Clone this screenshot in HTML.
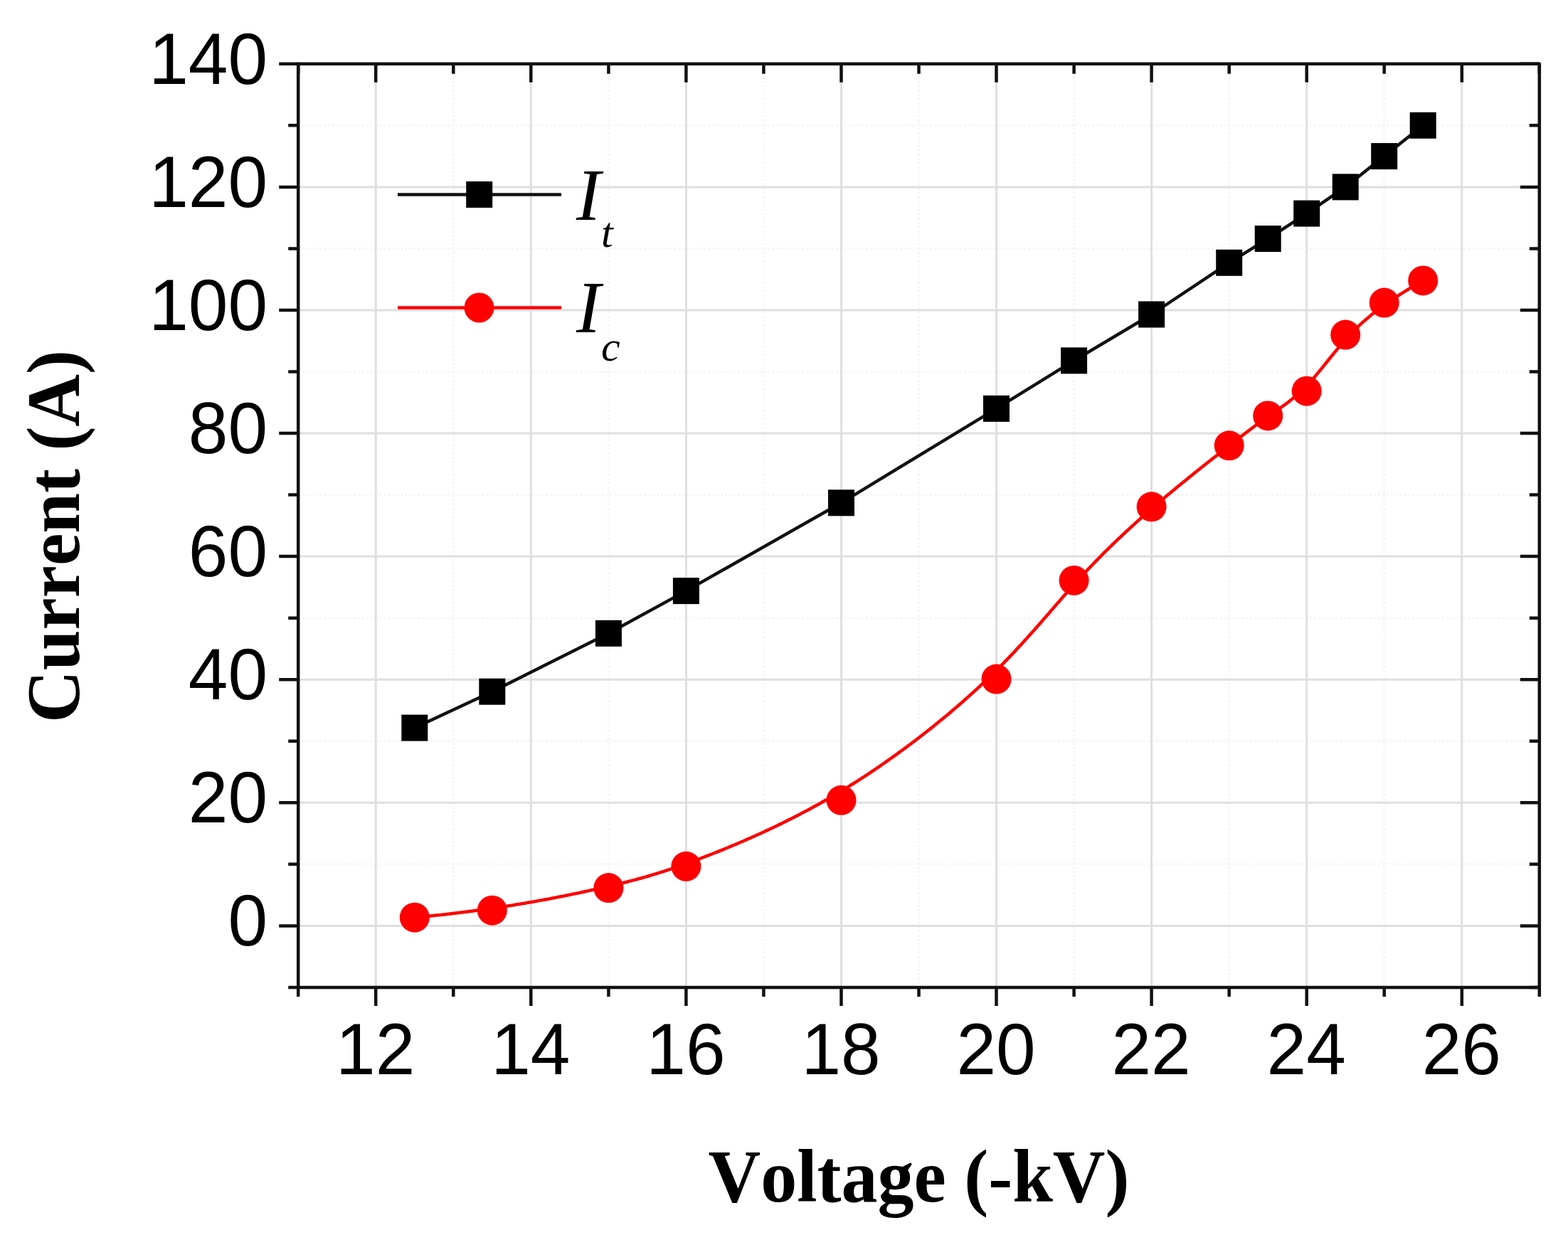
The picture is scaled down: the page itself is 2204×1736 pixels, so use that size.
<!DOCTYPE html>
<html><head><meta charset="utf-8"><title>Current vs Voltage</title>
<style>html,body{margin:0;padding:0;background:#fff;}svg{display:block;}text{font-kerning:none;}</style>
</head><body>
<svg width="2204" height="1736" viewBox="0 0 2204 1736">
<rect x="0" y="0" width="2204" height="1736" fill="#fff"/>
<path d="M637.3 89.8V1387.9M855.4 89.8V1387.9M1073.4 89.8V1387.9M1291.5 89.8V1387.9M1509.6 89.8V1387.9M1727.7 89.8V1387.9M1945.7 89.8V1387.9M419.2 1214.8H2163.8M419.2 1041.7H2163.8M419.2 868.7H2163.8M419.2 695.6H2163.8M419.2 522.5H2163.8M419.2 349.4H2163.8M419.2 176.3H2163.8" stroke="#f5f5f5" stroke-width="3" stroke-dasharray="3 3" fill="none"/>
<path d="M528.2 89.8V1387.9M746.3 89.8V1387.9M964.4 89.8V1387.9M1182.5 89.8V1387.9M1400.5 89.8V1387.9M1618.6 89.8V1387.9M1836.7 89.8V1387.9M2054.8 89.8V1387.9M419.2 1301.4H2163.8M419.2 1128.3H2163.8M419.2 955.2H2163.8M419.2 782.1H2163.8M419.2 609.0H2163.8M419.2 436.0H2163.8M419.2 262.9H2163.8" stroke="#dfdfdf" stroke-width="3" fill="none"/>
<path d="M392.2 1301.4H419.2M2136.8 1301.4H2163.8M392.2 1128.3H419.2M2136.8 1128.3H2163.8M392.2 955.2H419.2M2136.8 955.2H2163.8M392.2 782.1H419.2M2136.8 782.1H2163.8M392.2 609.0H419.2M2136.8 609.0H2163.8M392.2 436.0H419.2M2136.8 436.0H2163.8M392.2 262.9H419.2M2136.8 262.9H2163.8M392.2 89.8H419.2M2136.8 89.8H2163.8M405.2 1387.9H419.2M2149.8 1387.9H2163.8M405.2 1214.8H419.2M2149.8 1214.8H2163.8M405.2 1041.7H419.2M2149.8 1041.7H2163.8M405.2 868.7H419.2M2149.8 868.7H2163.8M405.2 695.6H419.2M2149.8 695.6H2163.8M405.2 522.5H419.2M2149.8 522.5H2163.8M405.2 349.4H419.2M2149.8 349.4H2163.8M405.2 176.3H419.2M2149.8 176.3H2163.8M528.2 1387.9V1413.9M528.2 89.8V115.8M746.3 1387.9V1413.9M746.3 89.8V115.8M964.4 1387.9V1413.9M964.4 89.8V115.8M1182.5 1387.9V1413.9M1182.5 89.8V115.8M1400.5 1387.9V1413.9M1400.5 89.8V115.8M1618.6 1387.9V1413.9M1618.6 89.8V115.8M1836.7 1387.9V1413.9M1836.7 89.8V115.8M2054.8 1387.9V1413.9M2054.8 89.8V115.8M419.2 1387.9V1400.9M419.2 89.8V103.8M637.3 1387.9V1400.9M637.3 89.8V103.8M855.4 1387.9V1400.9M855.4 89.8V103.8M1073.4 1387.9V1400.9M1073.4 89.8V103.8M1291.5 1387.9V1400.9M1291.5 89.8V103.8M1509.6 1387.9V1400.9M1509.6 89.8V103.8M1727.7 1387.9V1400.9M1727.7 89.8V103.8M1945.7 1387.9V1400.9M1945.7 89.8V103.8M2163.8 1387.9V1400.9M2163.8 89.8V103.8" stroke="#111" stroke-width="4.5" fill="none"/>
<rect x="419.2" y="89.8" width="1744.6" height="1298.1" stroke="#111" stroke-width="4.5" fill="none" stroke-linejoin="round"/>
<polyline points="582.8,1023.1 691.8,972.2 855.4,890.3 964.4,830.6 1182.5,706.8 1400.5,574.4 1509.6,506.9 1618.6,442.0 1727.7,369.3 1782.2,335.6 1836.7,300.1 1891.2,262.9 1945.7,219.6 2000.2,176.3" stroke="#111" stroke-width="4.5" fill="none" stroke-linejoin="round"/>
<path d="M582.8 1289.7 L587.2 1289.3 L591.7 1288.8 L596.1 1288.4 L600.5 1288.0 L604.9 1287.5 L609.2 1287.1 L613.5 1286.6 L617.8 1286.2 L622.0 1285.7 L626.3 1285.3 L630.4 1284.8 L634.6 1284.3 L638.7 1283.8 L642.8 1283.3 L646.9 1282.8 L650.9 1282.3 L654.9 1281.8 L658.9 1281.3 L662.8 1280.8 L666.7 1280.3 L670.6 1279.8 L674.5 1279.3 L678.3 1278.7 L682.1 1278.2 L685.8 1277.7 L689.6 1277.1 L693.3 1276.6 L697.0 1276.1 L700.6 1275.5 L704.2 1275.0 L707.8 1274.4 L711.4 1273.9 L714.9 1273.3 L718.4 1272.8 L721.9 1272.2 L725.3 1271.6 L728.8 1271.1 L732.2 1270.5 L735.5 1269.9 L738.9 1269.4 L742.2 1268.8 L745.4 1268.2 L748.7 1267.7 L751.9 1267.1 L755.1 1266.5 L758.3 1265.9 L761.4 1265.4 L764.5 1264.8 L767.6 1264.2 L770.7 1263.7 L773.7 1263.1 L776.7 1262.5 L779.7 1261.9 L782.6 1261.4 L785.5 1260.8 L788.4 1260.2 L791.3 1259.7 L794.1 1259.1 L796.9 1258.5 L799.7 1258.0 L802.5 1257.4 L805.2 1256.8 L807.9 1256.3 L810.6 1255.7 L813.2 1255.2 L815.9 1254.6 L818.5 1254.0 L821.0 1253.5 L823.6 1253.0 L826.1 1252.4 L828.6 1251.9 L831.1 1251.3 L833.5 1250.8 L835.9 1250.3 L838.3 1249.7 L840.7 1249.2 L843.0 1248.7 L845.4 1248.2 L847.7 1247.6 L849.9 1247.1 L852.2 1246.6 L854.4 1246.1 L856.6 1245.6 L858.8 1245.1 L861.0 1244.6 L863.2 1244.0 L865.3 1243.5 L867.4 1243.0 L869.6 1242.5 L871.7 1242.0 L873.7 1241.5 L875.8 1241.0 L877.9 1240.5 L879.9 1240.0 L881.9 1239.5 L883.9 1238.9 L885.9 1238.4 L887.9 1237.9 L889.9 1237.4 L891.9 1236.9 L893.9 1236.3 L895.8 1235.8 L897.8 1235.3 L899.7 1234.7 L901.7 1234.2 L903.6 1233.7 L905.5 1233.1 L907.5 1232.6 L909.4 1232.0 L911.3 1231.5 L913.2 1230.9 L915.1 1230.3 L917.1 1229.8 L919.0 1229.2 L920.9 1228.6 L922.8 1228.0 L924.7 1227.4 L926.7 1226.8 L928.6 1226.2 L930.5 1225.6 L932.5 1225.0 L934.4 1224.4 L936.4 1223.7 L938.3 1223.1 L940.3 1222.4 L942.2 1221.8 L944.2 1221.1 L946.2 1220.5 L948.2 1219.8 L950.2 1219.1 L952.2 1218.4 L954.2 1217.7 L956.3 1217.0 L958.3 1216.3 L960.4 1215.5 L962.5 1214.8 L964.6 1214.0 L966.7 1213.3 L968.8 1212.5 L971.0 1211.7 L973.1 1210.9 L975.3 1210.1 L977.5 1209.3 L979.7 1208.5 L981.9 1207.6 L984.2 1206.8 L986.5 1205.9 L988.8 1205.0 L991.1 1204.1 L993.4 1203.2 L995.8 1202.3 L998.2 1201.4 L1000.6 1200.5 L1003.0 1199.5 L1005.4 1198.6 L1007.8 1197.6 L1010.3 1196.6 L1012.8 1195.6 L1015.3 1194.6 L1017.8 1193.6 L1020.3 1192.5 L1022.9 1191.5 L1025.5 1190.4 L1028.0 1189.4 L1030.6 1188.3 L1033.2 1187.2 L1035.9 1186.1 L1038.5 1185.0 L1041.2 1183.8 L1043.8 1182.7 L1046.5 1181.5 L1049.2 1180.3 L1051.9 1179.1 L1054.6 1178.0 L1057.4 1176.7 L1060.1 1175.5 L1062.9 1174.3 L1065.7 1173.0 L1068.4 1171.8 L1071.2 1170.5 L1074.0 1169.2 L1076.8 1167.9 L1079.7 1166.6 L1082.5 1165.2 L1085.4 1163.9 L1088.2 1162.5 L1091.1 1161.2 L1093.9 1159.8 L1096.8 1158.4 L1099.7 1157.0 L1102.6 1155.5 L1105.5 1154.1 L1108.4 1152.6 L1111.3 1151.2 L1114.3 1149.7 L1117.2 1148.2 L1120.1 1146.7 L1123.1 1145.2 L1126.0 1143.6 L1129.0 1142.1 L1131.9 1140.5 L1134.9 1139.0 L1137.9 1137.4 L1140.8 1135.8 L1143.8 1134.1 L1146.8 1132.5 L1149.8 1130.9 L1152.8 1129.2 L1155.7 1127.5 L1158.7 1125.8 L1161.7 1124.1 L1164.7 1122.4 L1167.7 1120.7 L1170.7 1118.9 L1173.7 1117.2 L1176.7 1115.4 L1179.7 1113.6 L1182.7 1111.8 L1185.7 1110.0 L1188.7 1108.1 L1191.7 1106.3 L1194.7 1104.4 L1197.7 1102.5 L1200.7 1100.7 L1203.7 1098.8 L1206.7 1096.8 L1209.7 1094.9 L1212.7 1093.0 L1215.7 1091.0 L1218.7 1089.1 L1221.7 1087.1 L1224.6 1085.1 L1227.6 1083.1 L1230.6 1081.1 L1233.5 1079.1 L1236.5 1077.1 L1239.4 1075.0 L1242.4 1073.0 L1245.3 1070.9 L1248.3 1068.9 L1251.2 1066.8 L1254.1 1064.7 L1257.0 1062.6 L1260.0 1060.5 L1262.9 1058.4 L1265.7 1056.3 L1268.6 1054.2 L1271.5 1052.1 L1274.4 1050.0 L1277.2 1047.8 L1280.1 1045.7 L1282.9 1043.5 L1285.8 1041.4 L1288.6 1039.2 L1291.4 1037.1 L1294.2 1034.9 L1297.0 1032.8 L1299.8 1030.6 L1302.5 1028.4 L1305.3 1026.2 L1308.0 1024.1 L1310.8 1021.9 L1313.5 1019.7 L1316.2 1017.5 L1318.9 1015.3 L1321.6 1013.1 L1324.2 1011.0 L1326.9 1008.8 L1329.5 1006.6 L1332.2 1004.4 L1334.8 1002.2 L1337.4 1000.0 L1339.9 997.8 L1342.5 995.6 L1345.0 993.4 L1347.6 991.3 L1350.1 989.1 L1352.6 986.9 L1355.1 984.7 L1357.5 982.5 L1360.0 980.4 L1362.4 978.2 L1364.8 976.0 L1367.2 973.9 L1369.6 971.7 L1371.9 969.6 L1374.3 967.4 L1376.6 965.3 L1378.9 963.1 L1381.1 961.0 L1383.4 958.9 L1385.6 956.8 L1387.8 954.6 L1390.0 952.5 L1392.2 950.4 L1394.3 948.3 L1396.5 946.2 L1398.6 944.2 L1400.7 942.1 L1402.8 940.0 L1404.8 937.9 L1406.9 935.9 L1408.9 933.8 L1410.9 931.8 L1412.9 929.7 L1414.9 927.7 L1416.8 925.7 L1418.8 923.6 L1420.7 921.6 L1422.6 919.6 L1424.5 917.6 L1426.4 915.6 L1428.3 913.6 L1430.1 911.6 L1431.9 909.6 L1433.8 907.7 L1435.6 905.7 L1437.4 903.7 L1439.2 901.8 L1440.9 899.8 L1442.7 897.9 L1444.4 896.0 L1446.2 894.0 L1447.9 892.1 L1449.6 890.2 L1451.3 888.3 L1453.0 886.4 L1454.7 884.5 L1456.4 882.6 L1458.0 880.7 L1459.7 878.8 L1461.3 876.9 L1463.0 875.1 L1464.6 873.2 L1466.2 871.3 L1467.8 869.5 L1469.4 867.7 L1471.0 865.8 L1472.6 864.0 L1474.2 862.2 L1475.8 860.3 L1477.3 858.5 L1478.9 856.7 L1480.4 854.9 L1482.0 853.1 L1483.5 851.4 L1485.1 849.6 L1486.6 847.8 L1488.2 846.0 L1489.7 844.3 L1491.2 842.5 L1492.7 840.8 L1494.2 839.1 L1495.8 837.3 L1497.3 835.6 L1498.8 833.9 L1500.3 832.2 L1501.8 830.5 L1503.3 828.8 L1504.8 827.1 L1506.3 825.4 L1507.8 823.7 L1509.3 822.0 L1510.8 820.4 L1512.3 818.7 L1513.8 817.1 L1515.3 815.4 L1516.8 813.8 L1518.3 812.1 L1519.8 810.5 L1521.3 808.9 L1522.8 807.3 L1524.3 805.7 L1525.8 804.1 L1527.3 802.5 L1528.8 800.9 L1530.3 799.3 L1531.8 797.7 L1533.3 796.1 L1534.8 794.6 L1536.3 793.0 L1537.8 791.5 L1539.3 789.9 L1540.8 788.4 L1542.3 786.8 L1543.8 785.3 L1545.3 783.8 L1546.8 782.3 L1548.3 780.8 L1549.8 779.2 L1551.3 777.7 L1552.8 776.2 L1554.3 774.7 L1555.8 773.3 L1557.3 771.8 L1558.8 770.3 L1560.3 768.8 L1561.8 767.4 L1563.3 765.9 L1564.8 764.4 L1566.3 763.0 L1567.8 761.6 L1569.3 760.1 L1570.8 758.7 L1572.4 757.2 L1573.9 755.8 L1575.4 754.4 L1576.9 753.0 L1578.4 751.6 L1579.9 750.2 L1581.4 748.7 L1582.9 747.3 L1584.4 746.0 L1585.9 744.6 L1587.4 743.2 L1588.9 741.8 L1590.4 740.4 L1591.9 739.0 L1593.4 737.7 L1594.9 736.3 L1596.4 734.9 L1597.9 733.6 L1599.4 732.2 L1600.9 730.9 L1602.4 729.5 L1603.9 728.2 L1605.4 726.9 L1606.9 725.5 L1608.4 724.2 L1609.9 722.9 L1611.4 721.6 L1612.9 720.2 L1614.4 718.9 L1615.9 717.6 L1617.4 716.3 L1618.9 715.0 L1620.4 713.7 L1621.9 712.4 L1623.4 711.1 L1624.9 709.8 L1626.4 708.5 L1627.9 707.2 L1629.4 705.9 L1630.9 704.7 L1632.4 703.4 L1633.9 702.1 L1635.4 700.9 L1636.9 699.6 L1638.3 698.3 L1639.8 697.1 L1641.3 695.8 L1642.8 694.6 L1644.3 693.4 L1645.8 692.1 L1647.2 690.9 L1648.7 689.7 L1650.2 688.5 L1651.7 687.2 L1653.1 686.0 L1654.6 684.8 L1656.0 683.6 L1657.5 682.4 L1658.9 681.2 L1660.4 680.0 L1661.8 678.9 L1663.3 677.7 L1664.7 676.5 L1666.1 675.4 L1667.6 674.2 L1669.0 673.0 L1670.4 671.9 L1671.8 670.8 L1673.2 669.6 L1674.6 668.5 L1676.0 667.4 L1677.4 666.2 L1678.8 665.1 L1680.2 664.0 L1681.5 662.9 L1682.9 661.8 L1684.2 660.8 L1685.6 659.7 L1686.9 658.6 L1688.3 657.5 L1689.6 656.5 L1690.9 655.4 L1692.3 654.4 L1693.6 653.3 L1694.9 652.3 L1696.2 651.3 L1697.5 650.3 L1698.7 649.2 L1700.0 648.2 L1701.3 647.2 L1702.5 646.2 L1703.8 645.3 L1705.0 644.3 L1706.3 643.3 L1707.5 642.4 L1708.7 641.4 L1709.9 640.5 L1711.1 639.5 L1712.3 638.6 L1713.4 637.7 L1714.6 636.8 L1715.8 635.9 L1716.9 635.0 L1718.1 634.1 L1719.2 633.2 L1720.3 632.3 L1721.4 631.5 L1722.5 630.6 L1723.6 629.8 L1724.7 628.9 L1725.7 628.1 L1726.8 627.3 L1727.8 626.4 L1728.9 625.6 L1729.9 624.8 L1730.9 624.0 L1731.9 623.3 L1732.9 622.5 L1733.9 621.7 L1734.9 620.9 L1735.9 620.2 L1736.9 619.4 L1737.8 618.7 L1738.8 617.9 L1739.7 617.2 L1740.7 616.5 L1741.6 615.8 L1742.5 615.0 L1743.4 614.3 L1744.3 613.6 L1745.3 612.9 L1746.2 612.3 L1747.0 611.6 L1747.9 610.9 L1748.8 610.2 L1749.7 609.5 L1750.5 608.9 L1751.4 608.2 L1752.3 607.6 L1753.1 606.9 L1754.0 606.3 L1754.8 605.6 L1755.6 605.0 L1756.5 604.4 L1757.3 603.8 L1758.1 603.1 L1758.9 602.5 L1759.8 601.9 L1760.6 601.3 L1761.4 600.7 L1762.2 600.1 L1763.0 599.5 L1763.8 598.9 L1764.5 598.3 L1765.3 597.8 L1766.1 597.2 L1766.9 596.6 L1767.7 596.0 L1768.4 595.5 L1769.2 594.9 L1770.0 594.3 L1770.8 593.8 L1771.5 593.2 L1772.3 592.7 L1773.1 592.1 L1773.8 591.5 L1774.6 591.0 L1775.3 590.5 L1776.1 589.9 L1776.8 589.4 L1777.6 588.8 L1778.3 588.3 L1779.1 587.8 L1779.8 587.2 L1780.6 586.7 L1781.3 586.2 L1782.1 585.6 L1782.9 585.1 L1783.6 584.6 L1784.4 584.1 L1785.1 583.5 L1785.9 583.0 L1786.6 582.5 L1787.4 582.0 L1788.1 581.4 L1788.9 580.9 L1789.6 580.4 L1790.4 579.9 L1791.1 579.4 L1791.9 578.8 L1792.6 578.3 L1793.4 577.8 L1794.1 577.3 L1794.9 576.8 L1795.6 576.2 L1796.4 575.7 L1797.1 575.2 L1797.9 574.6 L1798.6 574.1 L1799.4 573.6 L1800.1 573.1 L1800.9 572.5 L1801.6 572.0 L1802.4 571.4 L1803.1 570.9 L1803.9 570.4 L1804.6 569.8 L1805.4 569.3 L1806.1 568.7 L1806.9 568.2 L1807.6 567.6 L1808.4 567.0 L1809.1 566.5 L1809.9 565.9 L1810.6 565.3 L1811.4 564.8 L1812.1 564.2 L1812.9 563.6 L1813.6 563.0 L1814.4 562.4 L1815.1 561.8 L1815.9 561.2 L1816.6 560.6 L1817.4 560.0 L1818.1 559.4 L1818.9 558.8 L1819.6 558.2 L1820.4 557.5 L1821.1 556.9 L1821.9 556.3 L1822.6 555.6 L1823.4 555.0 L1824.1 554.3 L1824.9 553.6 L1825.6 553.0 L1826.4 552.3 L1827.1 551.6 L1827.9 550.9 L1828.6 550.2 L1829.4 549.5 L1830.1 548.8 L1830.9 548.1 L1831.6 547.4 L1832.4 546.6 L1833.1 545.9 L1833.9 545.1 L1834.6 544.4 L1835.4 543.6 L1836.1 542.8 L1836.9 542.1 L1837.6 541.3 L1838.4 540.5 L1839.1 539.7 L1839.9 538.9 L1840.6 538.0 L1841.4 537.2 L1842.2 536.4 L1842.9 535.5 L1843.7 534.7 L1844.4 533.8 L1845.2 532.9 L1845.9 532.1 L1846.7 531.2 L1847.4 530.3 L1848.2 529.4 L1849.0 528.5 L1849.7 527.6 L1850.5 526.7 L1851.2 525.8 L1852.0 524.9 L1852.8 523.9 L1853.5 523.0 L1854.3 522.1 L1855.1 521.1 L1855.8 520.2 L1856.6 519.2 L1857.4 518.3 L1858.2 517.3 L1859.0 516.3 L1859.7 515.4 L1860.5 514.4 L1861.3 513.4 L1862.1 512.4 L1862.9 511.5 L1863.7 510.5 L1864.5 509.5 L1865.3 508.5 L1866.1 507.5 L1866.9 506.5 L1867.7 505.5 L1868.5 504.5 L1869.3 503.5 L1870.1 502.5 L1870.9 501.5 L1871.8 500.4 L1872.6 499.4 L1873.4 498.4 L1874.3 497.4 L1875.1 496.4 L1875.9 495.4 L1876.8 494.3 L1877.6 493.3 L1878.5 492.3 L1879.3 491.3 L1880.2 490.2 L1881.0 489.2 L1881.9 488.2 L1882.8 487.2 L1883.6 486.1 L1884.5 485.1 L1885.4 484.1 L1886.3 483.1 L1887.2 482.0 L1888.1 481.0 L1889.0 480.0 L1889.9 479.0 L1890.8 477.9 L1891.7 476.9 L1892.6 475.9 L1893.5 474.9 L1894.5 473.9 L1895.4 472.9 L1896.3 471.9 L1897.3 470.9 L1898.2 469.9 L1899.2 468.9 L1900.2 467.9 L1901.1 466.9 L1902.1 465.9 L1903.1 464.9 L1904.1 463.9 L1905.1 462.9 L1906.1 461.9 L1907.1 460.9 L1908.1 459.9 L1909.2 458.9 L1910.2 457.9 L1911.3 456.9 L1912.3 455.9 L1913.4 454.9 L1914.5 453.9 L1915.6 452.9 L1916.7 451.9 L1917.9 450.9 L1919.0 449.9 L1920.2 448.9 L1921.3 447.9 L1922.5 446.9 L1923.7 445.9 L1924.9 444.9 L1926.1 443.9 L1927.4 442.8 L1928.6 441.8 L1929.9 440.8 L1931.2 439.8 L1932.5 438.8 L1933.8 437.7 L1935.1 436.7 L1936.5 435.7 L1937.9 434.6 L1939.3 433.6 L1940.7 432.5 L1942.1 431.5 L1943.6 430.4 L1945.0 429.3 L1946.5 428.3 L1948.0 427.2 L1949.6 426.1 L1951.1 425.0 L1952.7 423.9 L1954.3 422.8 L1955.9 421.7 L1957.6 420.6 L1959.2 419.5 L1960.9 418.4 L1962.7 417.3 L1964.4 416.1 L1966.2 415.0 L1967.9 413.9 L1969.8 412.7 L1971.6 411.5 L1973.5 410.4 L1975.4 409.2 L1977.3 408.0 L1979.2 406.8 L1981.2 405.6 L1983.2 404.4 L1985.2 403.2 L1987.3 402.0 L1989.4 400.7 L1991.5 399.5 L1993.6 398.2 L1995.8 397.0 L1998.0 395.7 L2000.2 394.4" stroke="#ff0000" stroke-width="4.5" fill="none" stroke-linejoin="round"/>
<rect x="564.3" y="1004.6" width="37" height="37" fill="#000"/>
<rect x="673.3" y="953.7" width="37" height="37" fill="#000"/>
<rect x="836.9" y="871.8" width="37" height="37" fill="#000"/>
<rect x="945.9" y="812.1" width="37" height="37" fill="#000"/>
<rect x="1164.0" y="688.3" width="37" height="37" fill="#000"/>
<rect x="1382.0" y="555.9" width="37" height="37" fill="#000"/>
<rect x="1491.1" y="488.4" width="37" height="37" fill="#000"/>
<rect x="1600.1" y="423.5" width="37" height="37" fill="#000"/>
<rect x="1709.2" y="350.8" width="37" height="37" fill="#000"/>
<rect x="1763.7" y="317.1" width="37" height="37" fill="#000"/>
<rect x="1818.2" y="281.6" width="37" height="37" fill="#000"/>
<rect x="1872.7" y="244.4" width="37" height="37" fill="#000"/>
<rect x="1927.2" y="201.1" width="37" height="37" fill="#000"/>
<rect x="1981.7" y="157.8" width="37" height="37" fill="#000"/>
<circle cx="582.8" cy="1289.7" r="21" fill="#ff0000"/>
<circle cx="691.8" cy="1279.7" r="21" fill="#ff0000"/>
<circle cx="855.4" cy="1248.1" r="21" fill="#ff0000"/>
<circle cx="964.4" cy="1217.8" r="21" fill="#ff0000"/>
<circle cx="1182.5" cy="1124.8" r="21" fill="#ff0000"/>
<circle cx="1400.5" cy="954.6" r="21" fill="#ff0000"/>
<circle cx="1509.6" cy="815.9" r="21" fill="#ff0000"/>
<circle cx="1618.6" cy="712.3" r="21" fill="#ff0000"/>
<circle cx="1727.7" cy="626.3" r="21" fill="#ff0000"/>
<circle cx="1782.2" cy="584.4" r="21" fill="#ff0000"/>
<circle cx="1836.7" cy="549.7" r="21" fill="#ff0000"/>
<circle cx="1891.2" cy="470.6" r="21" fill="#ff0000"/>
<circle cx="1945.7" cy="425.6" r="21" fill="#ff0000"/>
<circle cx="2000.2" cy="394.4" r="21" fill="#ff0000"/>
<path d="M559 273.5H789" stroke="#111" stroke-width="4.5"/>
<rect x="655.2" y="255.0" width="37" height="37" fill="#000"/>
<path d="M559 432.5H789" stroke="#ff0000" stroke-width="4.5"/>
<circle cx="673.5" cy="432.5" r="21" fill="#ff0000"/>
<g font-family="'Liberation Serif', 'Times New Roman', serif" font-style="italic">
<text x="810" y="309" font-size="103">I</text>
<text x="845" y="347" font-size="60">t</text>
<text x="810" y="467" font-size="103">I</text>
<text x="845" y="507" font-size="60">c</text>
</g>
<g font-family="'Liberation Sans', Arial, sans-serif" font-size="100" fill="#000">
<text transform="translate(376 1329.4) scale(1 1.02)" text-anchor="end">0</text>
<text transform="translate(376 1156.3) scale(1 1.02)" text-anchor="end">20</text>
<text transform="translate(376 983.2) scale(1 1.02)" text-anchor="end">40</text>
<text transform="translate(376 810.1) scale(1 1.02)" text-anchor="end">60</text>
<text transform="translate(376 637.0) scale(1 1.02)" text-anchor="end">80</text>
<text transform="translate(376 464.0) scale(1 1.02)" text-anchor="end">100</text>
<text transform="translate(376 290.9) scale(1 1.02)" text-anchor="end">120</text>
<text transform="translate(376 117.8) scale(1 1.02)" text-anchor="end">140</text>
<text transform="translate(527.7 1509.5) scale(1 1.02)" text-anchor="middle">12</text>
<text transform="translate(745.8 1509.5) scale(1 1.02)" text-anchor="middle">14</text>
<text transform="translate(963.9 1509.5) scale(1 1.02)" text-anchor="middle">16</text>
<text transform="translate(1182.0 1509.5) scale(1 1.02)" text-anchor="middle">18</text>
<text transform="translate(1400.0 1509.5) scale(1 1.02)" text-anchor="middle">20</text>
<text transform="translate(1618.1 1509.5) scale(1 1.02)" text-anchor="middle">22</text>
<text transform="translate(1836.2 1509.5) scale(1 1.02)" text-anchor="middle">24</text>
<text transform="translate(2054.3 1509.5) scale(1 1.02)" text-anchor="middle">26</text>
</g>
<text transform="translate(1291.5 1689) scale(1 1.03)" font-family="'Liberation Serif', 'Times New Roman', serif" font-weight="bold" font-size="102" text-anchor="middle">Voltage (-kV)</text>
<text transform="translate(110.5 754) rotate(-90) scale(1 1.03)" font-family="'Liberation Serif', 'Times New Roman', serif" font-weight="bold" font-size="102" text-anchor="middle">Current (A)</text>
</svg>
</body></html>
